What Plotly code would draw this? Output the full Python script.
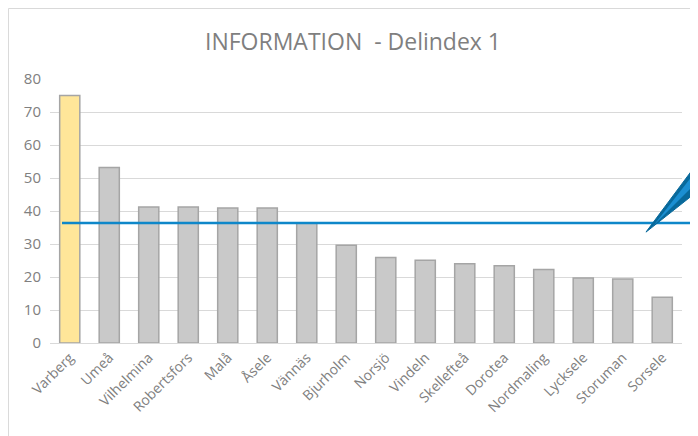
import plotly.graph_objects as go

# Data
kommuner = ["Varberg", "Umeå", "Vilhelmina", "Robertsfors", "Malå", "Åsele", "Vännäs",
            "Bjurholm", "Norsjö", "Vindeln", "Skellefteå", "Dorotea", "Nordmaling",
            "Lycksele", "Storuman", "Sorsele"]
delindex = [75.0, 53.2, 41.2, 41.2, 40.9, 40.9, 36.3, 29.6, 25.9, 25.1, 24.0, 23.4,
            22.3, 19.7, 19.4, 13.9]
referens = 36.4  # blue reference line
y_ticks = [0, 10, 20, 30, 40, 50, 60, 70, 80]

bar_colors = ["#FFE699"] + ["#C9C9C9"] * (len(kommuner) - 1)

fig = go.Figure()
fig.add_trace(go.Bar(
    x=kommuner, y=delindex,
    marker=dict(color=bar_colors, line=dict(color="#A5A5A5", width=1.5)),
    hoverinfo="x+y",
))

# reference line, starts at first bar and runs past the plot edge
fig.add_shape(type="line", xref="paper", yref="y",
              x0=0.019, x1=1.03, y0=referens, y1=referens,
              line=dict(color="#0E87C9", width=2.5))

# pencil decoration on the right
fig.add_shape(type="path", xref="paper", yref="paper",
              path="M 0.943 0.42 L 1.03 0.70 L 1.03 0.585 Z",
              fillcolor="#08699B", line=dict(color="#08699B", width=1))
fig.add_shape(type="path", xref="paper", yref="paper",
              path="M 0.955 0.445 L 1.03 0.675 L 1.03 0.625 Z",
              fillcolor="#1B8FD2", line=dict(width=0))

# chart border (top and left edges of the chart)
fig.add_shape(type="rect", xref="paper", yref="paper",
              x0=-0.0657, x1=1.2, y0=-0.5, y1=1.2670,
              line=dict(color="#D9D9D9", width=1))

fig.update_layout(
    width=690, height=428,
    margin=dict(l=42, r=16, t=71, b=93),
    paper_bgcolor="white", plot_bgcolor="white",
    title=dict(text="INFORMATION  - Delindex 1", x=0.5, xanchor="center",
               y=0.92, yanchor="middle",
               font=dict(family="Open Sans", size=23, color="#7F7F7F")),
    font=dict(family="Open Sans", size=14, color="#808080"),
    bargap=0.49,
    showlegend=False,
)
fig.update_xaxes(tickangle=-45, showgrid=False, showline=True,
                 linecolor="#D9D9D9", linewidth=1, ticks="",
                 tickfont=dict(size=14))
fig.update_yaxes(range=[0, 80], tickvals=y_ticks, showgrid=True,
                 gridcolor="#D9D9D9", gridwidth=1, zeroline=False,
                 showline=False, ticks="", ticklabelstandoff=8,
                 tickfont=dict(size=15))

fig.write_html("out.html")
